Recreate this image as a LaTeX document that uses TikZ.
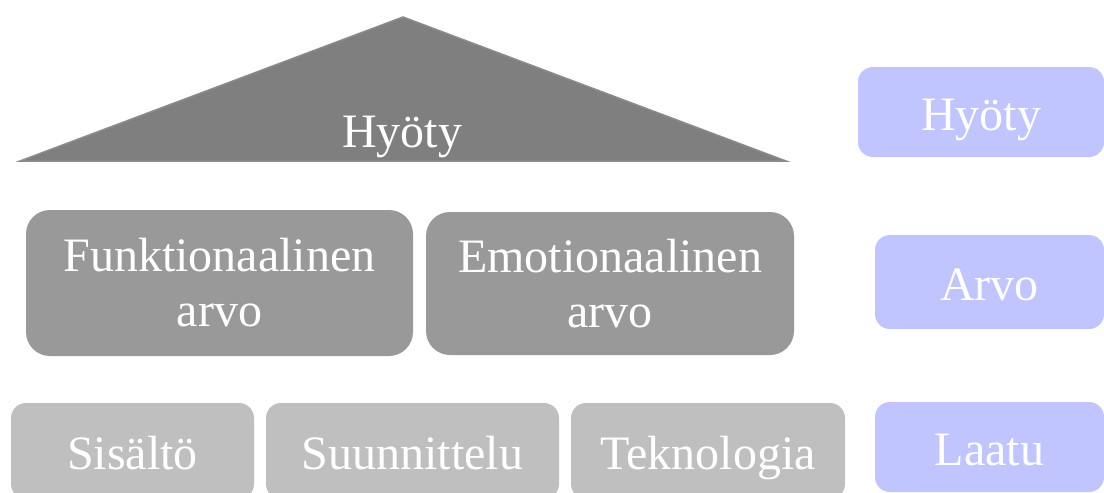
\documentclass[tikz,border=0pt]{standalone}
\usepackage{fontspec}
\setmainfont{Liberation Serif}
\definecolor{roofgray}{HTML}{7F7F7F}
\definecolor{roofedge}{HTML}{8C8C8C}
\definecolor{valuegray}{HTML}{999999}
\definecolor{qualitygray}{HTML}{BFBFBF}
\definecolor{sideblue}{HTML}{C0C4FF}
\begin{document}
\begin{tikzpicture}[x=1pt,y=-1pt,
    label text/.style={font=\fontsize{48}{55}\selectfont, text=white, inner sep=0pt},
    value node/.style={label text, align=center, fill=valuegray, rounded corners=24pt},
    quality node/.style={label text, text height=44pt, text depth=8pt, fill=qualitygray, rounded corners=15pt, minimum height=96pt},
    side node/.style={label text, text height=44pt, text depth=8pt, fill=sideblue, rounded corners=15pt}]
    \useasboundingbox (0,0) rectangle (1104,493);
    \clip (0,0) rectangle (1104,493);

    \filldraw[fill=roofgray, draw=roofedge, line width=1.5pt] (403,17) -- (786,161) -- (20,161) -- cycle;
    \node[label text, anchor=base] (roof) at (402,147) {Hyöty};

    \node[value node, minimum width=387pt, minimum height=146pt] (funk) at (219.5,283) {Funktionaalinen\\arvo};
    \node[value node, minimum width=368pt, minimum height=143pt] (emo) at (610,283.5) {Emotionaalinen\\arvo};

    \node[quality node, minimum width=243pt] (sis) at (132.5,451) {Sisältö};
    \node[quality node, minimum width=293pt] (suun) at (412.5,451) {Suunnittelu};
    \node[quality node, minimum width=274pt] (tek) at (708,451) {Teknologia};

    \node[side node, minimum width=246pt, minimum height=90pt] (hyoty) at (981,112) {Hyöty};
    \node[side node, minimum width=229pt, minimum height=94pt] (arvo) at (989.5,282) {Arvo};
    \node[side node, minimum width=229pt, minimum height=90pt] (laatu) at (989.5,447) {Laatu};
\end{tikzpicture}
\end{document}
